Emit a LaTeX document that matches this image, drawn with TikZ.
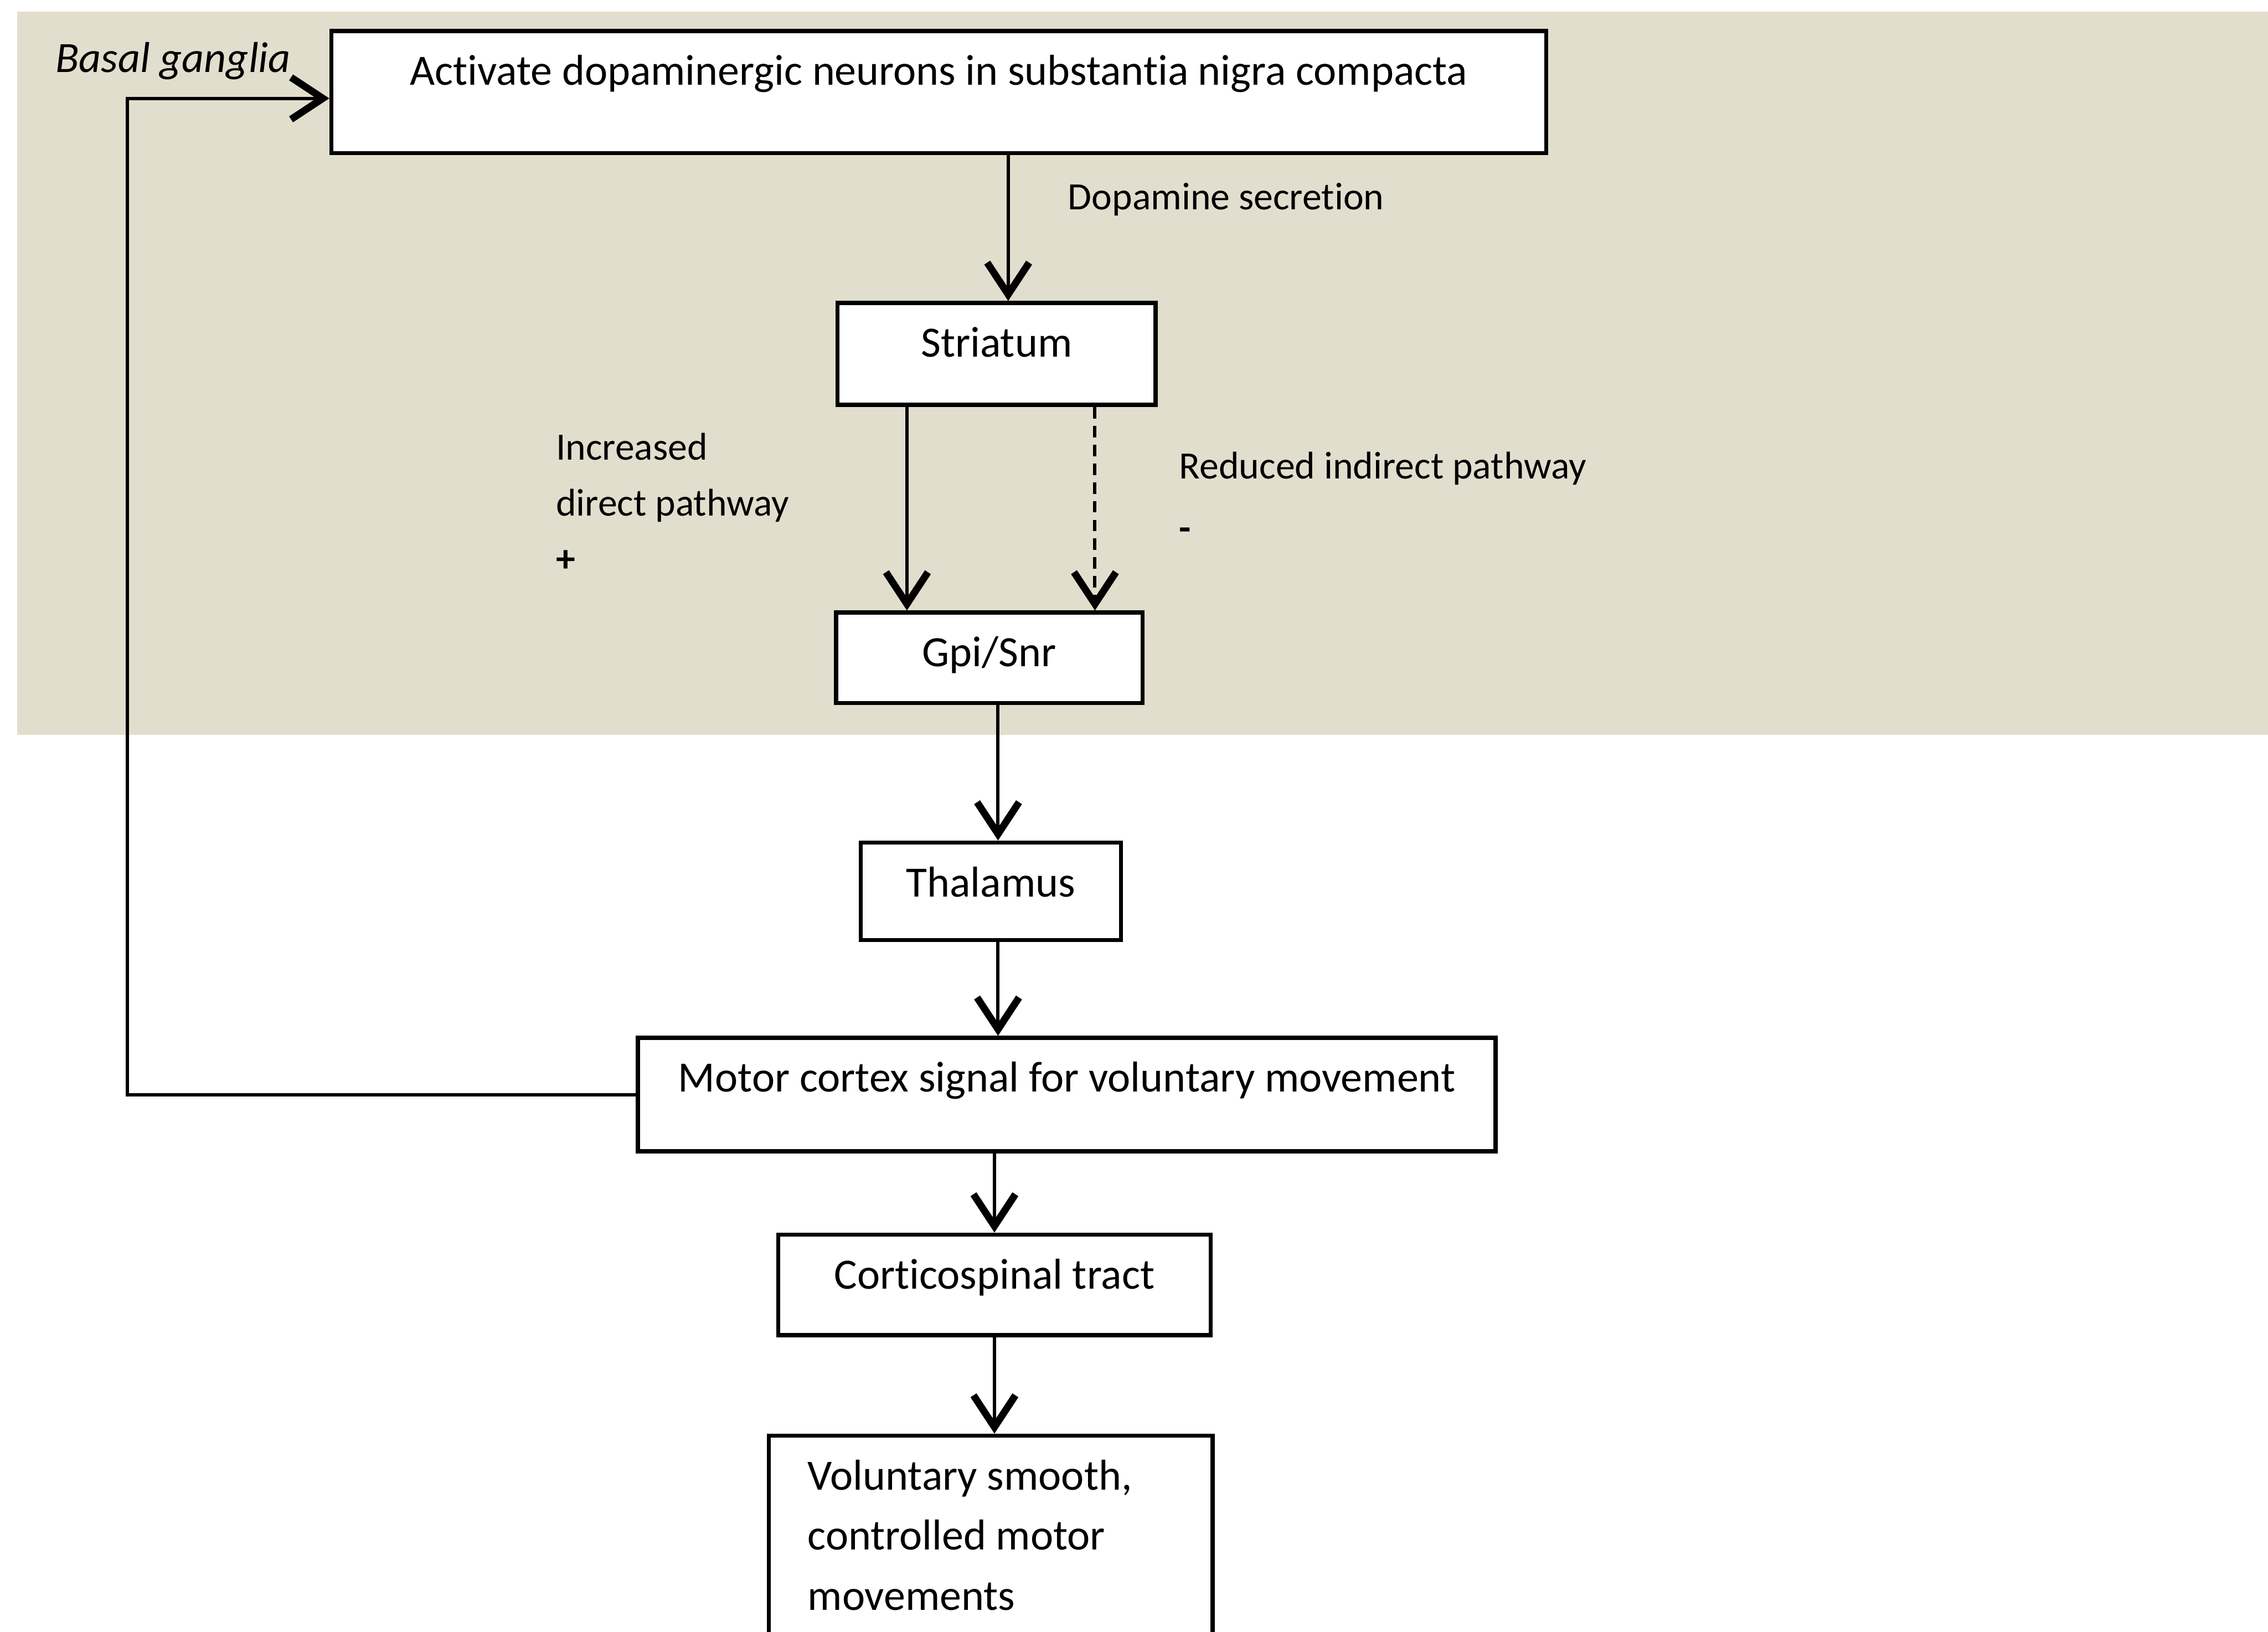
\documentclass[tikz,border=0pt]{standalone}
\usepackage{fontspec}
\setmainfont{Carlito}[Ligatures=NoCommon]
\usetikzlibrary{arrows.meta}
\definecolor{bgbeige}{RGB}{226,222,206}

\tikzset{
  box/.style={draw, fill=white, line width=1.6pt, inner sep=0pt, text height=0.75cm, anchor=north},
  arr/.style={line width=1.3pt, -{Straight Barb[length=0.44cm, width=0.58cm, line width=2.8pt]}},
  lbl/.style={inner sep=0pt, anchor=west, font=\fontsize{15.2}{22}\selectfont},
}

\begin{document}
\begin{tikzpicture}[x=0.02cm, y=-0.02cm, font=\fontsize{17}{22}\selectfont]
  \useasboundingbox (0,0) rectangle (1568,1128);
  \fill[bgbeige] (12,8) rectangle (1568,508);

  \node[box, minimum width=16.8cm, text depth=0.94cm] (act) at (649,20) {Activate dopaminergic neurons in substantia nigra compacta};
  \node[box, minimum width=4.4cm, text depth=0.66cm] (str) at (689,208) {Striatum};
  \node[box, minimum width=4.24cm, text depth=0.5cm] (gpi) at (684,422) {Gpi/Snr};
  \node[box, minimum width=3.6cm, text depth=0.6cm] (thal) at (685,581) {Thalamus};
  \node[box, minimum width=11.86cm, text depth=0.82cm] (mot) at (737.5,716) {Motor cortex signal for voluntary movement};
  \node[box, minimum width=5.98cm, text depth=0.64cm] (cst) at (687.5,852) {Corticospinal tract};
  \node[box, anchor=north west, inner xsep=0.54cm, text width=5.06cm, align=flush left, text depth=2.3cm,
        font=\fontsize{17}{23.6}\selectfont] (vol) at (530,991) {Voluntary smooth,\\ controlled motor\\ movements};

  \node[lbl, font=\fontsize{17}{22}\selectfont\itshape] (bg) at (38,42) {Basal ganglia};
  \node[lbl] (dop) at (738,138) {Dopamine secretion};
  \node[lbl, anchor=north west, align=left] (inc) at (384,299) {Increased\\ direct pathway\\ \textbf{+}};
  \node[lbl, anchor=north west, align=left] (red) at (815,312) {Reduced indirect pathway\\[2.5pt] \textbf{-}};

  \draw[arr] ([xshift=0.16cm]str.north |- act.south) -- ([xshift=0.16cm]str.north);
  \draw[arr] ([xshift=-1.24cm]str.south) -- ([xshift=-1.24cm]str.south |- gpi.north);
  \draw[arr, dash pattern=on 0.16cm off 0.1cm] ([xshift=1.36cm]str.south) -- ([xshift=1.36cm]str.south |- gpi.north);
  \draw[arr] ([xshift=0.12cm]gpi.south) -- ([xshift=0.12cm]gpi.south |- thal.north);
  \draw[arr] ([xshift=0.1cm]thal.south) -- ([xshift=0.1cm]thal.south |- mot.north);
  \draw[arr] (cst.north |- mot.south) -- (cst.north);
  \draw[arr] (cst.south) -- (cst.south |- vol.north);

  % loop back to the basal ganglia
  \coordinate (turn) at (88,68);
  \draw[arr] (mot.west) -| (turn) -- (turn -| act.west);
\end{tikzpicture}
\end{document}
